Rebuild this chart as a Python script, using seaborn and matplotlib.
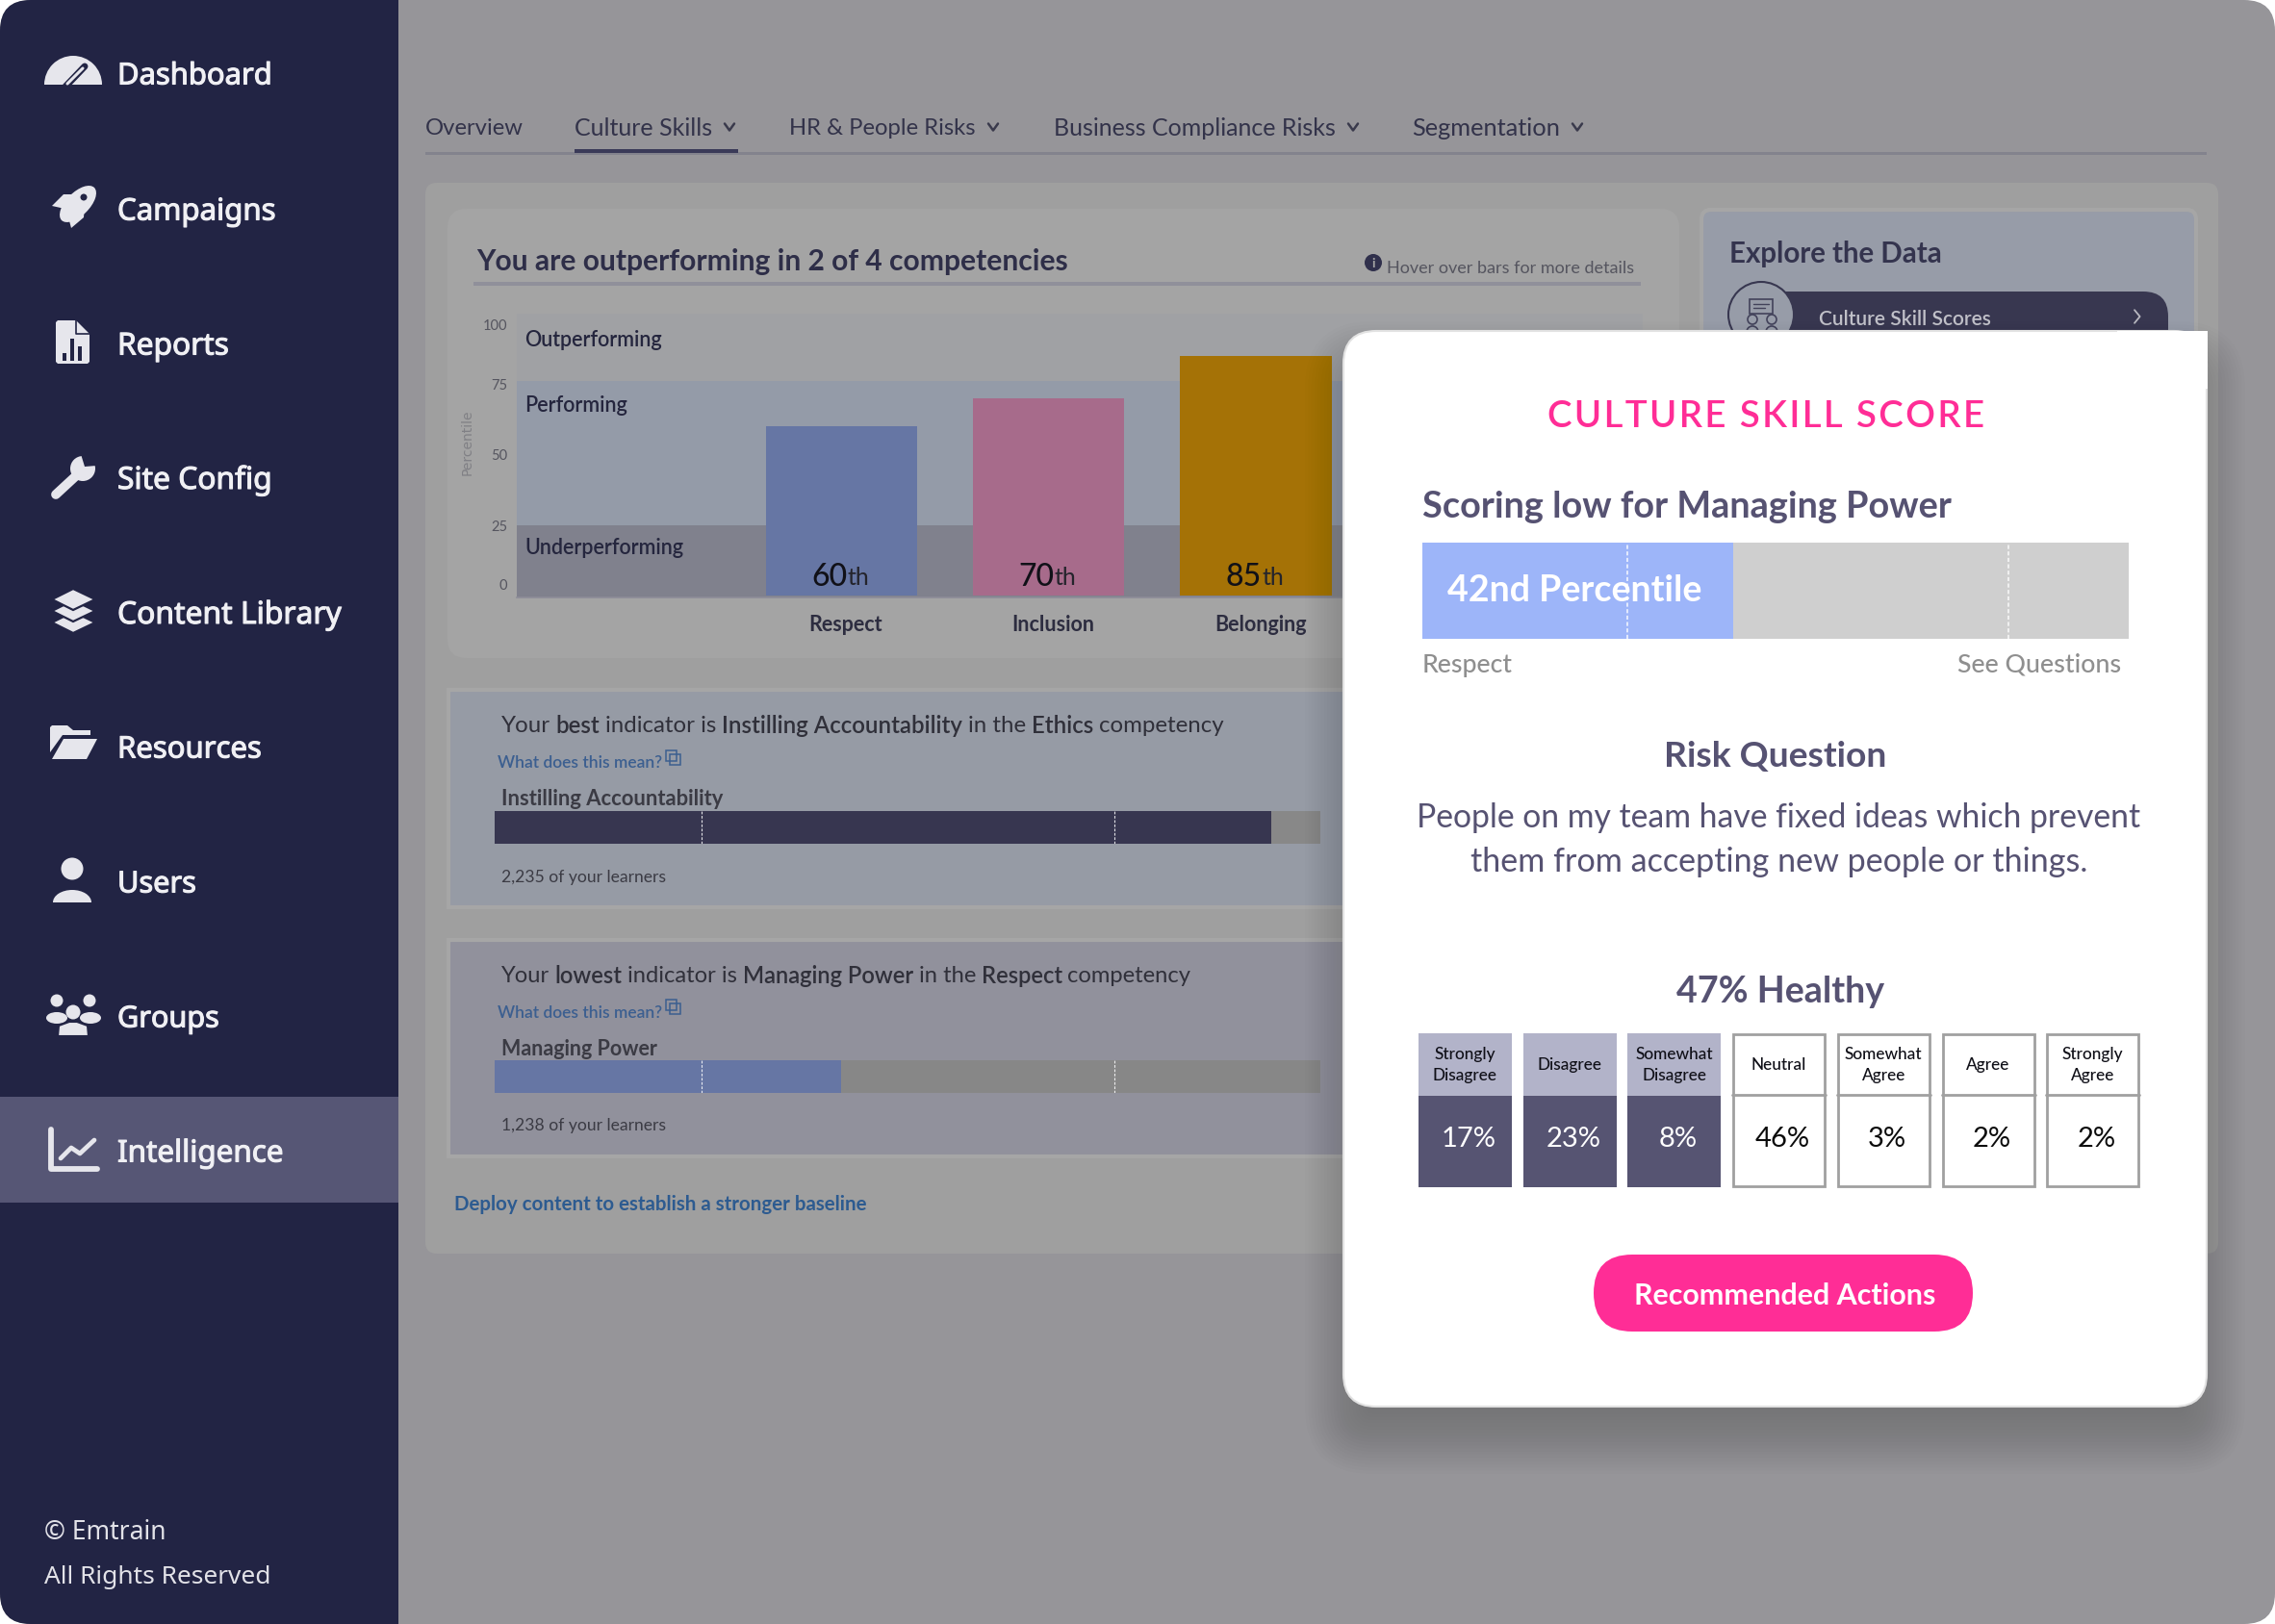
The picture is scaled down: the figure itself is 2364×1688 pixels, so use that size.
from __future__ import annotations

import matplotlib

matplotlib.use("Agg")

import matplotlib.patheffects as pe
import matplotlib.pyplot as plt
import seaborn as sns
from matplotlib.patches import Circle, Ellipse, FancyBboxPatch, Polygon, Rectangle, Wedge
from matplotlib.transforms import ScaledTranslation

WIDTH, HEIGHT = 2364, 1688

# main chart
COMPETENCIES = ["Respect", "Inclusion", "Belonging"]
PERCENTILES = [60, 70, 85]
BAR_COLORS = ["#6676a4", "#a76b8b", "#a57206"]
BAND_EDGES = [0, 25, 76, 100]
BAND_COLORS = ["#80818d", "#949ba8", "#a0a1a4"]
BAND_NAMES = ["Underperforming", "Performing", "Outperforming"]
TICK_SPOTS = [3.8, 24.6, 50, 75, 96]
TICK_LABELS = ["0", "25", "50", "75", "100"]

# indicator bars
BEST_SCORE = [94]
LOWEST_SCORE = [42]
POPUP_SCORE = [44]
INDICATOR_MARKS = [25, 75]
POPUP_MARKS = [29, 83]

# popup answers
ANSWERS = [
    "Strongly\nDisagree", "Disagree", "Somewhat\nDisagree", "Neutral",
    "Somewhat\nAgree", "Agree", "Strongly\nAgree",
]
ANSWER_SHARES = [17, 23, 8, 46, 3, 2, 2]
UNHEALTHY_COUNT = 3

NAV_ITEMS = ["Dashboard", "Campaigns", "Reports", "Site Config", "Content Library",
             "Resources", "Users", "Groups", "Intelligence"]
TABS = ["Overview", "Culture Skills", "HR & People Risks", "Business Compliance Risks", "Segmentation"]

BODY = "Lato"
SIDE = "Noto Sans"
DARK = "#222444"
ICON = "#e6e6ec"
PINK = "#ff2d96"
SLATE = "#565272"


def px_axes(fig, x0, y0, x1, y1, zorder):
    return fig.add_axes(
        [x0 / WIDTH, 1 - y1 / HEIGHT, (x1 - x0) / WIDTH, (y1 - y0) / HEIGHT], zorder=zorder
    )


def layer(fig, zorder):
    ax = px_axes(fig, 0, 0, WIDTH, HEIGHT, zorder)
    ax.set_xlim(0, WIDTH)
    ax.set_ylim(HEIGHT, 0)
    ax.axis("off")
    return ax


def put(ax, x, y, s, width=None, size=12, ha="left", family=BODY, **kw):
    t = ax.text(x, y + 2.5, s, fontsize=size, ha=ha, va="center", family=family, **kw)
    if width:
        w = t.get_window_extent(ax.figure.canvas.get_renderer()).width
        t.set_fontsize(size * width / w)
    return t


def mixed_line(ax, x, y, parts, size, color):
    renderer = ax.figure.canvas.get_renderer()
    for text, bold in parts:
        t = ax.text(x, y + 2.5, text, fontsize=size, va="center", family=BODY, color=color,
                    weight="semibold" if bold else "normal")
        x += t.get_window_extent(renderer).width + size * 0.33


def box(ax, x0, y0, x1, y1, color, radius=0, **kw):
    style = f"round,pad=0,rounding_size={radius}" if radius else "square,pad=0"
    patch = FancyBboxPatch((x0, y0), x1 - x0, y1 - y0, boxstyle=style, fc=color,
                           ec=kw.pop("ec", "none"), **kw)
    ax.add_patch(patch)
    return patch


def chevron(ax, x, y, size=5, color="#3a3a4c", lw=1.8, right=False):
    if right:
        ax.plot([x - size, x + size * 0.4, x - size], [y - size * 1.7, y, y + size * 1.7], color=color, lw=lw)
    else:
        ax.plot([x - size, x, x + size], [y - size * 0.7, y + size * 0.7, y - size * 0.7], color=color, lw=lw)


def draw_icons(ax):
    # gauge
    ax.add_patch(Wedge((76, 88), 30, 180, 360, fc=ICON, ec="none"))
    ax.plot([68, 88], [90, 69], color=DARK, lw=5, solid_capstyle="round")
    ax.plot([70, 86], [87, 71], color=ICON, lw=2.2, solid_capstyle="round")
    # rocket
    ax.add_patch(Ellipse((81, 212), 48, 24, angle=-45, fc=ICON, ec="none"))
    ax.add_patch(Polygon([(54, 214), (66, 202), (80, 202), (72, 218)], fc=ICON, ec="none"))
    ax.add_patch(Polygon([(74, 237), (87, 226), (88, 212), (70, 222)], fc=ICON, ec="none"))
    ax.add_patch(Circle((87, 205), 3.5, fc=DARK, ec="none"))
    # report file
    ax.add_patch(Polygon([(60, 333), (79, 333), (93, 347), (93, 376), (91, 378), (60, 378), (58, 376), (58, 335)],
                         fc=ICON, ec="none"))
    ax.plot([79, 79, 93], [333, 347, 347], color=DARK, lw=1.2)
    for bx, top in [(67, 367), (75, 352), (83, 360)]:
        ax.add_patch(Rectangle((bx - 2, top), 4, 375 - top, fc=DARK, ec="none"))
    # wrench
    ax.plot([58, 84], [514, 490], color=ICON, lw=7, solid_capstyle="round")
    ax.add_patch(Circle((86, 487), 13, fc=ICON, ec="none"))
    ax.add_patch(Polygon([(84, 472), (101, 472), (100, 484), (88, 485)], fc=DARK, ec="none"))
    ax.add_patch(Circle((58, 514), 1.8, fc=DARK, ec="none"))
    # layers
    for top in [636, 624, 612]:
        ax.add_patch(Polygon([(76, top), (99, top + 11), (76, top + 22), (54, top + 11)],
                             fc=ICON, ec=DARK, lw=1.6))
    # folder
    ax.add_patch(Polygon([(52, 756), (54, 754), (70, 754), (76, 759), (94, 759), (94, 764), (65, 764), (52, 782)],
                         fc=ICON, ec="none"))
    ax.add_patch(Polygon([(66, 768), (101, 768), (90, 789), (54, 789)], fc=ICON, ec="none"))
    # user
    ax.add_patch(Circle((75, 903), 11.5, fc=ICON, ec="none"))
    ax.add_patch(Ellipse((75, 938), 40, 26, fc=ICON, ec="none", clip_on=True))
    ax.add_patch(Rectangle((50, 938), 50, 14, fc=DARK, ec="none"))
    # groups
    for cx, cy, rad in [(59, 1040, 6.5), (93, 1040, 6.5), (76, 1052, 7.5)]:
        ax.add_patch(Circle((cx, cy), rad, fc=ICON, ec="none"))
    ax.add_patch(Ellipse((59, 1058), 22, 12, fc=ICON, ec="none"))
    ax.add_patch(Ellipse((94, 1058), 22, 12, fc=ICON, ec="none"))
    ax.add_patch(Polygon([(60, 1077), (61, 1066), (72, 1062), (80, 1062), (91, 1066), (92, 1077)], fc=ICON, ec=DARK, lw=1.5))
    # line chart
    ax.plot([53, 53, 101], [1174, 1215, 1215], color=ICON, lw=4.2, solid_capstyle="round")
    ax.plot([63, 74, 83, 98], [1204, 1193, 1199, 1185], color=ICON, lw=3.4)


def draw_sidebar(ax, page):
    side = Rectangle((0, 0), 414, HEIGHT, fc=DARK, ec="none")
    ax.add_patch(side)
    side.set_clip_path(page)
    ax.add_patch(Rectangle((0, 1140), 414, 110, fc="#565675", ec="none"))
    rows = [77, 218, 358, 497, 637, 777, 917, 1057, 1197]
    widths = [161, 165, 116, 161, 233, 150, 82, 106, 173]
    thicken = [pe.withStroke(linewidth=0.8, foreground="#f0f0f4")]
    for name, y, w in zip(NAV_ITEMS, rows, widths):
        put(ax, 122, y, name, width=w, size=24, family=SIDE, color="#f0f0f4", path_effects=thicken)
    draw_icons(ax)
    put(ax, 46, 1591, "© Emtrain", width=127, size=21, family=SIDE, color="#e2e2e8")
    put(ax, 46, 1637, "All Rights Reserved", width=236, size=21, family=SIDE, color="#e2e2e8")


def draw_tabs(ax):
    spots = [(442, 102), (597, 143), (820, 194), (1095, 293), (1467, 154)]
    for name, (x, w) in zip(TABS, spots):
        put(ax, x, 131, name, width=w, size=18, color="#33334a")
        if name != "Overview":
            chevron(ax, x + w + 18, 132)
    ax.add_patch(Rectangle((442, 158), 1851, 3, fc="#83838d", ec="none"))
    ax.add_patch(Rectangle((597, 155), 170, 4, fc="#3a3a58", ec="none"))


def draw_panels(ax):
    box(ax, 442, 190, 2305, 1303, "#9f9f9f", radius=12)
    box(ax, 465, 217, 1745, 684, "#a4a4a4", radius=20)
    box(ax, 1768, 218, 2282, 500, "#979ca8", radius=10, ec="#a6a6a6", lw=3)
    box(ax, 466, 717, 1420, 943, "#969ba5", ec="#a6a6a6", lw=3)
    box(ax, 466, 977, 1420, 1202, "#91919c", ec="#a6a6a6", lw=3)
    ax.add_patch(Rectangle((492, 293), 1213, 3.5, fc="#90909a", ec="none"))
    # explore pill
    box(ax, 1830, 303, 2253, 370, "#383750", radius=26)
    ax.add_patch(Circle((1830, 327), 34, fc="#979ca8", ec="#383750", lw=1.5))


def draw_explore_icon(ax):
    c = "#42425a"
    ax.add_patch(Rectangle((1818, 311), 24, 15, fc="none", ec=c, lw=1.2))
    ax.plot([1822, 1838], [316, 316], color=c, lw=1)
    ax.plot([1822, 1834], [320, 320], color=c, lw=1)
    for cx in (1821, 1841):
        ax.add_patch(Circle((cx, 332), 5, fc="none", ec=c, lw=1.2))
        ax.add_patch(Circle((cx, 345), 6, fc="none", ec=c, lw=1.2))


def copy_icon(ax, x, y, color):
    ax.add_patch(Rectangle((x, y), 11, 11, fc="none", ec=color, lw=1.1))
    ax.add_patch(Rectangle((x + 4, y + 4), 11, 11, fc="none", ec=color, lw=1.1))


def draw_dashboard_text(ax):
    put(ax, 495, 269, "You are outperforming in 2 of 4 competencies", width=614, size=22,
        color="#2e2e48", weight="bold")
    ax.add_patch(Circle((1427, 273), 9, fc="#30304c", ec="none"))
    put(ax, 1427, 271, "i", size=10, ha="center", color="#a4a4a4", weight="bold")
    put(ax, 1441, 276, "Hover over bars for more details", width=256, size=13, color="#55555f")
    put(ax, 1797, 262, "Explore the Data", width=221, size=22, color="#34344e", weight="bold")
    put(ax, 1890, 329, "Culture Skill Scores", width=179, size=14, color="#c0c0c8", weight="semibold")
    chevron(ax, 2222, 329, size=4, color="#b8b8c0", lw=1.3, right=True)
    draw_explore_icon(ax)

    for name, y in zip(BAND_NAMES, [567, 419, 351]):
        put(ax, 545, y, name, size=15.5, color="#25263e", weight="semibold")

    line_color = "#30303a"
    mixed_line(ax, 521, 752, [("Your", 0), ("best", 1), ("indicator is", 0),
                              ("Instilling Accountability", 1), ("in the", 0), ("Ethics", 1),
                              ("competency", 0)], 17.3, line_color)
    mixed_line(ax, 521, 1012, [("Your", 0), ("lowest", 1), ("indicator is", 0), ("Managing Power", 1),
                               ("in the", 0), ("Respect", 1), ("competency", 0)], 17.1, line_color)
    link = "#3c5f90"
    for y in (791, 1050):
        put(ax, 517, y, "What does this mean?", width=170, size=12, color=link, weight="semibold")
        copy_icon(ax, 692, y - 11, link)
    put(ax, 521, 828, "Instilling Accountability", width=230, size=15.5, color="#3b3b44", weight="bold")
    put(ax, 521, 1088, "Managing Power", width=162, size=15.5, color="#3b3b44", weight="bold")
    put(ax, 521, 909, "2,235 of your learners", width=170, size=12, color="#3b3b44")
    put(ax, 521, 1168, "1,238 of your learners", width=170, size=12, color="#3b3b44")
    put(ax, 472, 1250, "Deploy content to establish a stronger baseline", width=432, size=15,
        color="#2d5b90", weight="bold")


def draw_main_chart(fig):
    ax = px_axes(fig, 537, 326, 1707, 621, 2)
    for low, high, color in zip(BAND_EDGES[:-1], BAND_EDGES[1:], BAND_COLORS):
        ax.axhspan(low, high, color=color, lw=0)
    ax.axhspan(-0.7, 0, color=BAND_COLORS[0], lw=0)
    sns.barplot(x=COMPETENCIES, y=PERCENTILES, hue=COMPETENCIES, palette=BAR_COLORS,
                width=0.73, saturation=1, legend=False, linewidth=0, ax=ax)
    ax.set_xlim(-1.566, 3.866)
    ax.set_ylim(-0.7, 100)
    ax.set_yticks(TICK_SPOTS, TICK_LABELS, fontsize=10.5, color="#55555f", family=BODY)
    ax.set_ylabel("Percentile", fontsize=10, color="#808085", family="DejaVu Sans")
    ax.yaxis.set_label_coords(-0.0376, 0.546)
    ax.tick_params(axis="y", length=0, pad=7)
    ax.tick_params(axis="x", length=0, pad=13)
    shift = ScaledTranslation(4.5 / 100, 0, fig.dpi_scale_trans)
    for tick in ax.get_xticklabels():
        tick.set(fontsize=15.5, family=BODY, weight="bold", color="#2d2d40")
        tick.set_transform(tick.get_transform() + shift)
    sns.despine(ax=ax, left=True, right=True, top=True, bottom=False)
    ax.spines["bottom"].set(color="#8d8d98", lw=1.2)
    for i, value in enumerate(PERCENTILES):
        ax.annotate(str(value), (i, 0), xytext=(6, 19), textcoords="offset pixels", ha="right", va="center",
                    fontsize=23, family=BODY, weight="medium", color="#111118")
        ax.annotate("th", (i, 0), xytext=(6, 18), textcoords="offset pixels", ha="left", va="center",
                    fontsize=18, family=BODY, color="#24242c")


def draw_score_bar(fig, x0, y0, x1, y1, score, marks, fill, rest, zorder, mark_lw):
    ax = px_axes(fig, x0, y0, x1, y1, zorder)
    ax.add_patch(Rectangle((0, 0), 1, 1, transform=ax.transAxes, fc=rest, ec="none", zorder=0))
    sns.barplot(x=score, y=[""], orient="h", color=fill, saturation=1, width=1, linewidth=0, ax=ax)
    ax.set_xlim(0, 100)
    ax.set_ylim(0.5, -0.5)
    for mark in marks:
        ax.axvline(mark, color="white", lw=mark_lw, ls=(0, (2.5, 1.5)), alpha=0.85)
    ax.axis("off")
    return ax


def draw_answers(ax):
    left, step, cell = 1474, 108.7, 97
    for i, (answer, share) in enumerate(zip(ANSWERS, ANSWER_SHARES)):
        x = left + i * step
        if i < UNHEALTHY_COUNT:
            ax.add_patch(Rectangle((x, 1074), cell, 65, fc="#b2b3c9", ec="none"))
            ax.add_patch(Rectangle((x, 1139), cell, 95, fc="#565472", ec="none"))
            value_color = "white"
        else:
            ax.add_patch(Rectangle((x + 1, 1075), cell - 2, 158, fc="white", ec="#a0a0a0", lw=2))
            ax.plot([x, x + cell], [1138, 1138], color="#a0a0a0", lw=2)
            value_color = "#0c0c0c"
        ax.text(x + cell / 2, 1107, answer, ha="center", va="center", fontsize=12.4, family=BODY,
                color="#101018", weight="medium", linespacing=1.45)
        put(ax, x + cell / 2 + 4, 1182, f"{share}%", size=21, ha="center", color=value_color)


def draw_popup(fig):
    ax = layer(fig, 5)
    for i in range(24):
        grow = 40 - i * 3.3
        box(ax, 1396 - grow, 344 + 30 - grow, 2293 + grow, 1462 + 30 + grow, "black",
            radius=max(30 + grow, 8), alpha=0.008)
    box(ax, 1396, 344, 2293, 1462, "white", radius=34, ec="#e2e2e2", lw=1.5)
    ax.add_patch(Rectangle((2200, 343.5), 94, 60, fc="white", ec="none"))

    tracked = "\u200a".join("CULTURE SKILL SCORE")
    put(ax, 1608, 431, tracked, width=456, size=26, family=[BODY, "DejaVu Sans"], color=PINK,
        weight="semibold")
    put(ax, 1478, 524, "Scoring low for Managing Power", width=550, size=28, color=SLATE, weight="bold")
    put(ax, 1478, 689, "Respect", width=94, size=20, color="#8f8f8f", weight="medium")
    put(ax, 2034, 689, "See Questions", width=170, size=20, color="#8f8f8f", weight="medium")
    put(ax, 1845, 784, "Risk Question", width=232, size=28, ha="center", color=SLATE, weight="bold")
    put(ax, 1848, 848, "People on my team have fixed ideas which prevent", width=753, size=26, ha="center", color=SLATE)
    put(ax, 1849, 893, "them from accepting new people or things.", width=640, size=26, ha="center", color=SLATE)
    put(ax, 1850, 1029, "47% Healthy", width=216, size=28, ha="center", color=SLATE, weight="bold")
    draw_answers(ax)
    box(ax, 1656, 1304, 2050, 1384, PINK, radius=40)
    put(ax, 1855, 1345, "Recommended Actions", width=313, size=24, ha="center", color="white", weight="bold")

    bar = draw_score_bar(fig, 1478, 564, 2212, 664, POPUP_SCORE, POPUP_MARKS, "#9db5f9", "#cfcfcf", 6, 1.2)
    t = bar.text(0.036, 0.5, "42nd Percentile", transform=bar.transAxes, va="center", family=BODY,
                 fontsize=28, color="white", weight="bold", zorder=5)
    t.set_fontsize(28 * 265 / t.get_window_extent(fig.canvas.get_renderer()).width)


def main() -> None:
    sns.set_theme(style="white")
    plt.rcParams["font.family"] = [BODY, "DejaVu Sans"]
    fig = plt.figure(figsize=(WIDTH / 100, HEIGHT / 100), dpi=100, facecolor="white")

    chrome = layer(fig, 0)
    page = box(chrome, 0, 0, WIDTH, HEIGHT, "#969599", radius=32)
    draw_sidebar(chrome, page)
    draw_tabs(chrome)
    draw_panels(chrome)

    draw_main_chart(fig)
    draw_score_bar(fig, 514, 843, 1372, 877, BEST_SCORE, INDICATOR_MARKS, "#373650", "#888888", 2, 0.8)
    draw_score_bar(fig, 514, 1102, 1372, 1136, LOWEST_SCORE, INDICATOR_MARKS, "#6676a4", "#878787", 2, 0.8)

    over = layer(fig, 3)
    draw_dashboard_text(over)
    draw_popup(fig)

    fig.savefig("out.png", dpi=100, facecolor="white")
    plt.close(fig)


if __name__ == "__main__":
    main()
